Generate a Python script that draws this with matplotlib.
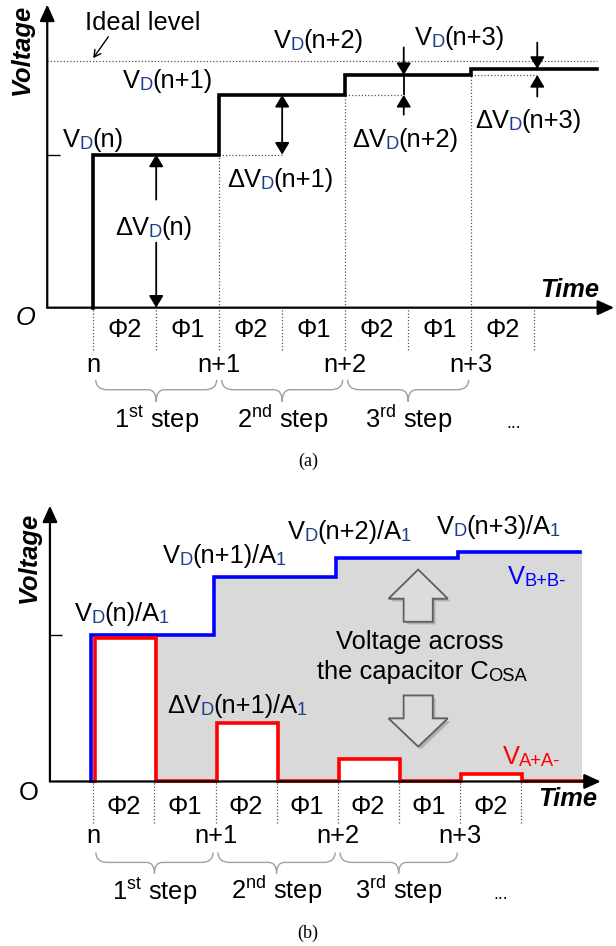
import numpy as np
import matplotlib
matplotlib.use('Agg')
import matplotlib.pyplot as plt
import matplotlib.patheffects as pe
from matplotlib.path import Path
from matplotlib.patches import PathPatch
from matplotlib.transforms import offset_copy

plt.rcParams['font.family'] = ['Liberation Sans', 'DejaVu Sans']
plt.rcParams['mathtext.fontset'] = 'custom'
plt.rcParams['mathtext.rm'] = 'Liberation Sans'
plt.rcParams['mathtext.it'] = 'Liberation Sans:italic'

# ---- data ----
phase_names = ['Φ2', 'Φ1', 'Φ2', 'Φ1', 'Φ2', 'Φ1', 'Φ2']
sample_names = ['n', 'n+1', 'n+2', 'n+3']
step_names = ['1$^{\\mathregular{st}}$ step', '2$^{\\mathregular{nd}}$ step',
              '3$^{\\mathregular{rd}}$ step']
sample_args = ['(n)', '(n+1)', '(n+2)', '(n+3)']
vd_level = [1.0, 1.39, 1.52, 1.56]      # (a) V_D(n) .. V_D(n+3)
ideal_level = 1.61
vb_level = [1.0, 1.39, 1.52, 1.565]     # (b) V_B+B- = V_D/A1
va_pulse = [0.98, 0.40, 0.15, 0.054]    # (b) V_A+A- during each phi2

FS = 18.4
SUB = 0.72
DC = '#1C3F8A'      # colour of the D / 1 subscripts
DOT = '#555555'
DOTTED = (0, (1, 1.6))

fig = plt.figure(figsize=(6.16, 9.46), dpi=100)
ax_a = fig.add_axes([0, 0.5, 1, 0.5])
ax_b = fig.add_axes([0, 0, 1, 0.5])
ax_a.set_xlim(-1.48, 8.30)
ax_a.set_ylim(-1.08, 2.01)
ax_b.set_xlim(-1.53, 8.56)
ax_b.set_ylim(-1.12, 2.10)
for ax in (ax_a, ax_b):
    ax.axis('off')


def rich(ax, x, y, parts, size=FS, color='black'):
    # chain of text pieces, subscripts drawn smaller and lower
    txt = None
    prev_sub = False
    for part in parts:
        s, sub = part[0], part[1]
        c = part[2] if len(part) > 2 else color
        fs = size * SUB if sub else size
        if txt is None:
            txt = ax.text(x, y, s, fontsize=fs, color=c, ha='left', va='baseline')
        else:
            dy = -1.0 if sub else (1.0 if prev_sub else 0.0)
            txt = ax.annotate(s, xy=(1, 0), xycoords=txt, xytext=(-0.4, dy),
                              textcoords='offset points', fontsize=fs, color=c,
                              ha='left', va='bottom')
        prev_sub = sub
    return txt


def vd_parts(k, delta=False, a1=False):
    parts = [('ΔV' if delta else 'V', False), ('D', True, DC), (sample_args[k], False)]
    if a1:
        parts += [('/A', False), ('1', True, DC)]
    return parts


def arrow(ax, start, end, style='-|>', lw=1.3, ms=12, hl=0.6, hw=0.36):
    ax.annotate('', xy=end, xytext=start,
                arrowprops=dict(arrowstyle=f'{style},head_length={hl},head_width={hw}',
                                mutation_scale=ms, lw=lw, color='black',
                                shrinkA=0, shrinkB=0))


def brace(ax, t0, t1, top, mid, tip, r=0.19, rt=0.13):
    tm = (t0 + t1) / 2
    verts = [(t0, top), (t0, mid), (t0 + r, mid), (tm - rt, mid), (tm, mid), (tm, tip),
             (tm, mid), (tm + rt, mid), (t1 - r, mid), (t1, mid), (t1, top)]
    codes = [Path.MOVETO, Path.CURVE3, Path.CURVE3, Path.LINETO, Path.CURVE3, Path.CURVE3,
             Path.CURVE3, Path.CURVE3, Path.LINETO, Path.CURVE3, Path.CURVE3]
    ax.add_patch(PathPatch(Path(verts, codes), fc='none', ec='#a0a0a0', lw=1.0))


def timeline(ax, y_dot, y_phi, y_n, y_brace, y_step, t_dots):
    edges = np.arange(len(phase_names) + 1)
    ax.vlines(edges, y_dot, 0, colors=DOT, linestyles=DOTTED, lw=0.9)
    for k, name in enumerate(phase_names):
        ax.text(k + 0.5, y_phi, name, ha='center', va='baseline', fontsize=FS)
    for k, name in enumerate(sample_names):
        ax.text(2 * k, y_n, name, ha='center', va='baseline', fontsize=FS)
    for k, name in enumerate(step_names):
        brace(ax, 2 * k + 0.04, 2 * k + 1.96, *y_brace)
        ax.text(2 * k + 1, y_step, name, ha='center', va='baseline', fontsize=FS)
    ax.text(t_dots, y_step, '...', ha='center', va='baseline', fontsize=13)


def axes_arrows(ax, x0, x1, y1, t_time, y_time, o_x, o_y, o_style, v_xy):
    arrow(ax, (x0, 0), (x1, 0), lw=1.6, ms=18, hl=0.55, hw=0.25)
    arrow(ax, (x0, 0), (x0, y1), lw=1.6, ms=18, hl=0.55, hw=0.25)
    ax.text(t_time, y_time, 'Time', ha='right', va='baseline', fontsize=FS,
            fontweight='bold', style='italic')
    ax.text(o_x, o_y, 'O', ha='center', va='baseline', fontsize=FS, style=o_style)
    ax.text(*v_xy, 'Voltage', ha='center', va='center', rotation=90, fontsize=FS,
            fontweight='bold', style='italic')


# ================= (a) =================
ax = ax_a
t = np.arange(len(phase_names) + 2)
lv = np.repeat(vd_level, 2)
ax.hlines(ideal_level, -0.73, 8, colors=DOT, linestyles=DOTTED, lw=0.9)
ax.vlines([2, 4, 6], 0, vd_level[:3], colors=DOT, linestyles=DOTTED, lw=0.9)
dv_t = [1, 3, 4.93, 7.05]
ax.hlines(vd_level[:3], [2, 4, 6], dv_t[1:], colors=DOT, linestyles=DOTTED, lw=0.9)
ax.plot(np.r_[0, t], np.r_[0, lv, lv[-1]], drawstyle='steps-post', color='black',
        lw=2.6, solid_joinstyle='miter')
ax.hlines(vd_level[0], -0.73, -0.52, colors='black', lw=1.0)
timeline(ax, -0.275, -0.19, -0.418, (-0.471, -0.536, -0.614), -0.784, 6.67)
axes_arrows(ax, -0.73, 8.27, 1.98, 8.03, 0.072, -1.08, -0.111, 'italic', (-1.13, 1.686))

# delta arrows
arrow(ax, (dv_t[0], 0.706), (dv_t[0], vd_level[0]))
arrow(ax, (dv_t[0], 0.425), (dv_t[0], 0))
arrow(ax, (dv_t[1], vd_level[0]), (dv_t[1], vd_level[1]), style='<|-|>')
arrow(ax, (dv_t[2], 1.70), (dv_t[2], vd_level[2]))
ax.vlines(dv_t[2], vd_level[1], vd_level[2], colors='black', lw=1.3)
arrow(ax, (dv_t[2], 1.261), (dv_t[2], vd_level[1]))
arrow(ax, (dv_t[3], 1.732), (dv_t[3], vd_level[3]))
arrow(ax, (dv_t[3], 1.379), (dv_t[3], vd_level[2]))
ax.annotate('', xy=(0.0, 1.63), xytext=(0.24, 1.77),
            arrowprops=dict(arrowstyle='->,head_length=0.4,head_width=0.22',
                            mutation_scale=12, lw=1.0, color='black', shrinkA=0, shrinkB=0))

ax.text(-0.127, 1.817, 'Ideal level', ha='left', va='baseline', fontsize=FS)
rich(ax, -0.476, 1.052, vd_parts(0))
rich(ax, 0.476, 1.438, vd_parts(1))
rich(ax, 2.873, 1.699, vd_parts(2))
rich(ax, 5.111, 1.719, vd_parts(3))
rich(ax, 0.349, 0.477, vd_parts(0, delta=True))
rich(ax, 2.127, 0.791, vd_parts(1, delta=True))
rich(ax, 4.111, 1.052, vd_parts(2, delta=True))
rich(ax, 6.063, 1.176, vd_parts(3, delta=True))
ax.text(3.413, -1.007, '(a)', ha='center', va='center', fontsize=13,
        family='Liberation Serif')

# ================= (b) =================
ax = ax_b
bv = np.repeat(vb_level, 2)
rv = np.ravel(np.column_stack([va_pulse, np.zeros(len(va_pulse))]))
ax.fill_between(t, np.r_[rv, rv[-1]], np.r_[bv, bv[-1]], step='post',
                color='#d9d9d9', lw=0)
tr_blue = offset_copy(ax.transData, fig=fig, x=-2, y=0, units='dots')
tr_red = offset_copy(ax.transData, fig=fig, x=1.5, y=0, units='dots')
timeline(ax, -0.286, -0.218, -0.422, (-0.483, -0.551, -0.626), -0.803, 6.67)
axes_arrows(ax, -0.712, 8.31, 1.878, 8.245, -0.170, -1.056, -0.129, 'normal', (-1.056, 1.524))
ax.hlines(vb_level[0], -0.712, -0.516, colors='black', lw=1.0)
ax.plot(np.r_[0, t], np.r_[0, bv, bv[-1]], drawstyle='steps-post', color='#0000ff',
        lw=2.6, solid_joinstyle='miter', transform=tr_blue)
ax.plot(np.r_[0, t], np.r_[0, rv, rv[-1]], drawstyle='steps-post', color='#ff0000',
        lw=2.6, solid_joinstyle='miter', transform=tr_red)

shadow = [pe.withSimplePatchShadow(offset=(2, -2), shadow_rgbFace='#808080', alpha=0.45),
          pe.Normal()]
a_up = ax.arrow(5.32, 1.088, 0, 0.354, width=0.475, head_width=0.966, head_length=0.197,
                length_includes_head=True, fc='#dcdcdc', ec='#606060', lw=1.2)
a_dn = ax.arrow(5.32, 0.585, 0, -0.347, width=0.475, head_width=0.966, head_length=0.191,
                length_includes_head=True, fc='#dcdcdc', ec='#606060', lw=1.2)
a_up.set_path_effects(shadow)
a_dn.set_path_effects(shadow)

rich(ax, -0.303, 1.095, vd_parts(0, a1=True))
rich(ax, 1.138, 1.490, vd_parts(1, a1=True))
rich(ax, 3.185, 1.653, vd_parts(2, a1=True))
rich(ax, 5.625, 1.687, vd_parts(3, a1=True))
rich(ax, 1.204, 0.469, vd_parts(1, delta=True, a1=True))
rich(ax, 6.787, 1.347, [('V', False), ('B+B-', True)], color='#0000ff')
rich(ax, 6.705, 0.122, [('V', False), ('A+A-', True)], color='#ff0000')
ax.text(5.346, 0.905, 'Voltage across', ha='center', va='baseline', fontsize=FS)
rich(ax, 3.66, 0.701, [('the capacitor C', False), ('OSA', True)])
ax.text(3.512, -1.034, '(b)', ha='center', va='center', fontsize=13,
        family='Liberation Serif')

fig.savefig('out.png', dpi=100)
